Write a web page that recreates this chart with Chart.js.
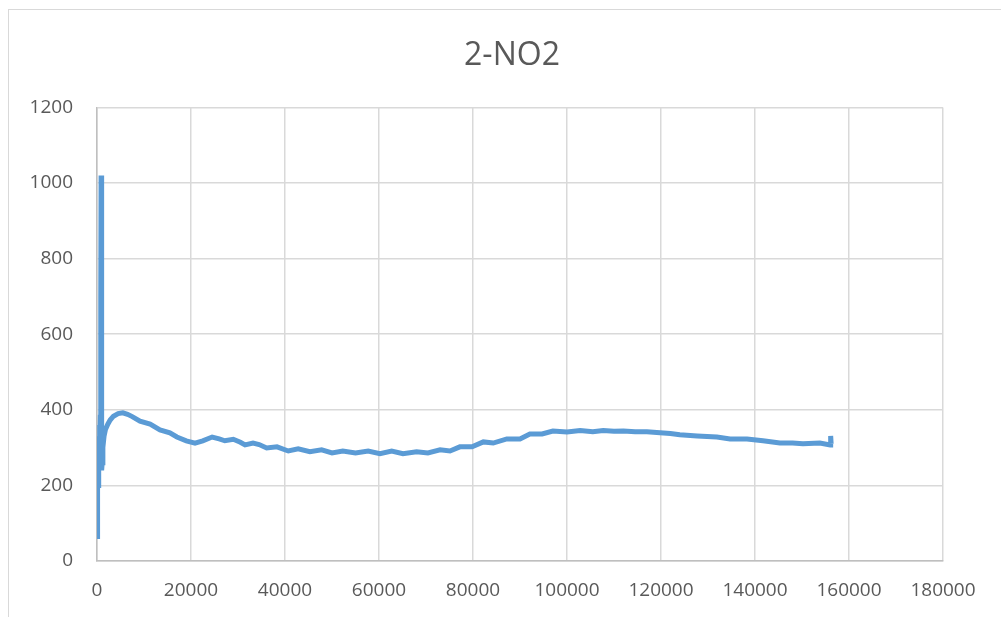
<!DOCTYPE html>
<html>
<head>
<meta charset="utf-8">
<script src="https://cdn.jsdelivr.net/npm/chart.js@4/dist/chart.umd.min.js"></script>
<style>
  html, body { margin: 0; padding: 0; background: #fff; overflow: hidden; }
  #frame { position: absolute; left: 8px; top: 9px; width: 1100px; height: 700px; border: 1px solid #d9d9d9; }
  #wrap { position: absolute; left: 0; top: 0; width: 1001px; height: 617px; }
</style>
</head>
<body>
<div id="frame"></div>
<div id="wrap"><canvas id="myChart" width="1001" height="617"></canvas></div>
<script>
const chartTitle = '2-NO2';

// time / sample index
const xValues = [
  0, 60, 120, 180, 240, 300, 360, 420, 480, 540, 600, 700, 800, 870, 930, 990, 1040, 1100, 1250, 1500,
  1800, 2300, 2800, 3500, 4500, 5500, 6500, 7500, 9150, 11300, 13400, 15500, 17000, 19000, 20850,
  22500, 24500, 26000, 27200, 29000, 30500, 31500, 33200, 34500, 36100, 38300, 40700, 42800, 45300,
  47800, 50000, 52300, 55000, 57700, 60200, 62700, 65100, 68000, 70400, 73000, 75100, 77200, 79800,
  82200, 84300, 87200, 90000, 92100, 94700, 97000, 100000, 102800, 105500, 107700, 110000, 112000,
  114500, 117000, 119800, 122000, 124000, 127700, 131900, 134700, 138300, 141700, 145300, 148000,
  150200, 153800, 156000, 156100, 156200
];

// NO2 reading
const yValues = [
  65, 180, 140, 250, 200, 290, 260, 330, 280, 360, 300, 380, 700, 1020, 1015, 700, 240, 260, 300, 330,
  348, 362, 373, 383, 390, 392, 388, 382, 370, 362, 347, 339, 328, 318, 312,
  318, 328, 323, 318, 322, 314, 307, 312, 308, 299, 302, 291, 297, 289,
  294, 286, 291, 286, 291, 284, 291, 284, 289, 286, 294, 291, 302, 302,
  315, 312, 323, 323, 336, 336, 344, 341, 345, 342, 345, 343, 344,
  342, 342, 339, 337, 334, 331, 328, 323, 323, 318, 312, 312,
  310, 312, 307, 331, 310
];

const xTicks = [0, 20000, 40000, 60000, 80000, 100000, 120000, 140000, 160000, 180000];
const yTicks = [0, 200, 400, 600, 800, 1000, 1200];

const points = xValues.map((x, i) => ({ x: x, y: yValues[i] }));
const fontFamily = '"Open Sans", "Liberation Sans", sans-serif';

// centre the title over the whole frame, not just the plot
const centerTitle = {
  id: 'centerTitle',
  afterLayout(chart) {
    if (chart.titleBlock) {
      chart.titleBlock.left = 8;
      chart.titleBlock.right = 1016;
    }
  },
};

const ctx = document.getElementById('myChart').getContext('2d');
new Chart(ctx, {
  type: 'scatter',
  data: {
    datasets: [
      {
        label: chartTitle,
        data: points,
        showLine: true,
        borderColor: '#5B9BD5',
        backgroundColor: '#5B9BD5',
        borderWidth: 5,
        pointRadius: 0,
        tension: 0,
      },
    ],
  },
  plugins: [centerTitle],
  options: {
    responsive: false,
    animation: false,
    devicePixelRatio: 1,
    layout: { padding: { left: 0, right: 58, top: 0, bottom: 0 } },
    plugins: {
      legend: { display: false },
      tooltip: { enabled: false },
      title: {
        display: true,
        text: chartTitle,
        color: '#595959',
        font: { family: fontFamily, size: 32, weight: 'normal' },
        padding: { top: 37, bottom: 32 },
      },
    },
    scales: {
      x: {
        type: 'linear',
        min: 0,
        max: 180000,
        afterBuildTicks: (scale) => { scale.ticks = xTicks.map((v) => ({ value: v })); },
        afterFit: (scale) => { scale.height = 56; },
        grid: { color: '#d9d9d9', lineWidth: 1.5, drawTicks: false },
        border: { color: '#bfbfbf', width: 1.5 },
        ticks: {
          color: '#595959',
          font: { family: fontFamily, size: 19 },
          padding: 18,
          maxRotation: 0,
          callback: (v) => String(v),
        },
      },
      y: {
        type: 'linear',
        min: 0,
        max: 1200,
        afterBuildTicks: (scale) => { scale.ticks = yTicks.map((v) => ({ value: v })); },
        afterFit: (scale) => { scale.width = 97; },
        grid: { color: '#d9d9d9', lineWidth: 1.5, drawTicks: false },
        border: { color: '#bfbfbf', width: 1.5 },
        ticks: {
          color: '#595959',
          font: { family: fontFamily, size: 19 },
          padding: 24,
          callback: (v) => String(v),
        },
      },
    },
  },
});
</script>
</body>
</html>
